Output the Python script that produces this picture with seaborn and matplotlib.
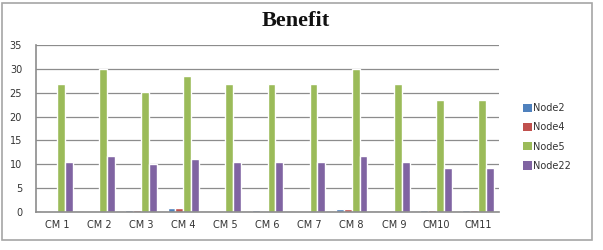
import matplotlib
matplotlib.use("Agg")
import matplotlib.pyplot as plt
import seaborn as sns
import pandas as pd
from matplotlib.patches import Rectangle, Patch

categories = ["CM 1", "CM 2", "CM 3", "CM 4", "CM 5", "CM 6", "CM 7", "CM 8", "CM 9", "CM10", "CM11"]
node2 = [0.3, 0.0, 0.4, 0.8, 0.3, 0.5, 0.0, 0.6, 0.0, 0.4, 0.4]
node4 = [0.3, 0.0, 0.4, 0.8, 0.0, 0.0, 0.0, 0.6, 0.0, 0.4, 0.4]
node5 = [26.8, 30.0, 25.2, 28.5, 26.8, 26.8, 26.8, 30.0, 26.8, 23.5, 23.5]
node22 = [10.5, 11.8, 10.0, 11.2, 10.5, 10.5, 10.5, 11.8, 10.5, 9.3, 9.3]
series_names = ["Node2", "Node4", "Node5", "Node22"]
colors = ["#4F81BD", "#C0504D", "#9BBB59", "#8064A2"]
yticks = [0, 5, 10, 15, 20, 25, 30, 35]

rows = []
for name, vals in zip(series_names, [node2, node4, node5, node22]):
    for c, v in zip(categories, vals):
        rows.append({"cat": c, "node": name, "val": v})
df = pd.DataFrame(rows)

sns.set_style("white")
fig = plt.figure(figsize=(6.03, 2.5), dpi=100)
ax = fig.add_axes([36 / 603, 38 / 250, 463 / 603, 167 / 250])

sns.barplot(data=df, x="cat", y="val", hue="node", hue_order=series_names,
            palette=colors, width=0.75, gap=0, ax=ax, legend=False,
            saturation=1, errorbar=None)

ax.set_ylim(0, 35)
ax.set_yticks(yticks)
ax.set_xlim(-0.5, len(categories) - 0.5)
ax.set_xlabel("")
ax.set_ylabel("")
ax.yaxis.grid(True, color="#8c8c8c", linewidth=0.9)
ax.set_axisbelow(True)
for s in ["top", "right"]:
    ax.spines[s].set_visible(False)
ax.spines["left"].set_color("#8c8c8c")
ax.spines["bottom"].set_color("#8c8c8c")
ax.spines["left"].set_linewidth(1.2)
ax.spines["bottom"].set_linewidth(1.2)
ax.tick_params(axis="both", length=0, labelsize=7, colors="#333333")
ax.tick_params(axis="y", pad=10)
ax.tick_params(axis="x", pad=6)

fig.text(296 / 603, 1 - 21 / 250, "Benefit", ha="center", va="center",
         fontsize=16, fontweight="bold", family="Liberation Serif", color="#111111")

handles = [Patch(facecolor=c, edgecolor="none") for c in colors]
fig.legend(handles, series_names, loc="center left",
           bbox_to_anchor=(514 / 603, 1 - 137 / 250), frameon=False,
           handlelength=0.9, handleheight=0.9, handletextpad=0.2,
           labelspacing=0.95, fontsize=7, labelcolor="#333333")

fig.patches.append(Rectangle((2 / 603, 10 / 250), 590 / 603, 237 / 250,
                             transform=fig.transFigure, fill=False,
                             edgecolor="#a6a6a6", linewidth=1.2))

fig.savefig("out.png", dpi=100)
